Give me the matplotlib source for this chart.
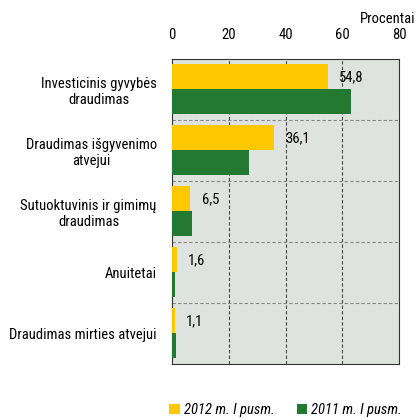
import numpy as np
import matplotlib
matplotlib.use("Agg")
import matplotlib.pyplot as plt

plt.rcParams['font.family'] = ['Roboto Condensed', 'DejaVu Sans']

categories = ["Investicinis gyvybės\ndraudimas",
              "Draudimas išgyvenimo\natvejui",
              "Sutuoktuvinis ir gimimų\ndraudimas",
              "Anuitetai",
              "Draudimas mirties atvejui"]
vals_2012 = [54.8, 36.1, 6.5, 1.6, 1.1]
vals_2011 = [63.2, 27.0, 7.2, 1.2, 1.3]
labels_2012 = ["54,8", "36,1", "6,5", "1,6", "1,1"]
series_names = ["2012 m. I pusm.", "2011 m. I pusm."]

yellow = "#ffc800"
green = "#237832"

fig = plt.figure(figsize=(4.17, 4.19), dpi=100)
ax = fig.add_axes([0.4125, 0.1313, 0.5444, 0.728])
ax.set_facecolor("#dfe3e0")

y = np.arange(len(categories))
h = 0.41
ax.barh(y - h / 2, vals_2012, height=h, color=yellow, label=series_names[0], zorder=3)
ax.barh(y + h / 2, vals_2011, height=h, color=green, label=series_names[1], zorder=3)

for yi, v, lab in zip(y, vals_2012, labels_2012):
    ax.annotate(lab, (v, yi - h / 2), xytext=(8, 0), textcoords="offset points",
                va="center", ha="left", fontsize=10.5, zorder=4)

ax.set_xlim(0, 80)
ax.set_ylim(len(categories) - 0.5, -0.5)
ax.set_xticks([0, 20, 40, 60, 80])
ax.xaxis.tick_top()
ax.tick_params(axis="x", length=0, labelsize=10.5, pad=12)
ax.set_yticks(y)
ax.set_yticklabels(categories, fontsize=10.5)
for t in ax.get_yticklabels():
    t.set_ha("right")
    t.set_multialignment("center")
ax.tick_params(axis="y", length=0, pad=11)

# gridlines
for xv in [20, 40, 60]:
    ax.axvline(xv, color="#444444", lw=0.8, ls=(0, (3, 2)), zorder=1)
for yv in y[:-1] + 0.5:
    ax.axhline(yv, color="#888888", lw=0.8, ls=(0, (3, 2)), zorder=1)

for s in ax.spines.values():
    s.set_color("#333333")
    s.set_linewidth(0.8)

fig.text(0.995, 0.955, "Procentai", ha="right", va="center", fontsize=10.5)

leg = fig.legend(loc="center", bbox_to_anchor=(0.685, 0.022), ncol=2, frameon=False,
                 handlelength=0.7, handleheight=0.7, handletextpad=0.3, columnspacing=1.5,
                 prop={"style": "italic", "size": 10.5})

fig.savefig("out.png", dpi=100)
